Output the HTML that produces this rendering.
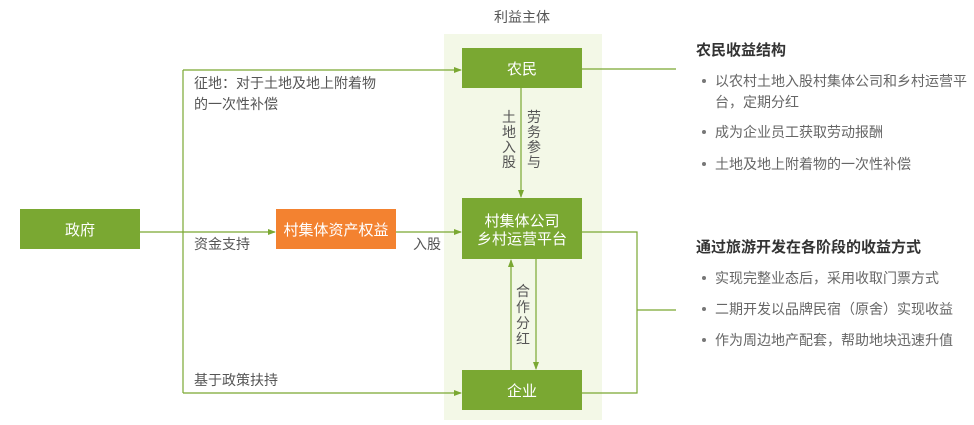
<!DOCTYPE html>
<html><head><meta charset="utf-8"><style>
body{margin:0;background:#fff;}
svg text{font-family:"Liberation Sans","Noto Sans CJK SC",sans-serif;}
</style></head><body>
<svg width="974" height="420" xmlns="http://www.w3.org/2000/svg">
<defs><marker id="a" markerWidth="8" markerHeight="8" refX="7" refY="4" orient="auto" markerUnits="userSpaceOnUse"><path d="M0,1 L8,4 L0,7 Z" fill="#7aa832"/></marker></defs>
<rect x="444" y="34" width="158" height="386" fill="#f3f8e7"/>
<text x="522" y="22" font-size="14" fill="#555" text-anchor="middle">利益主体</text>
<g stroke="#7aa832" stroke-width="1.2" fill="none">
<path d="M183,70 V393"/>
<path d="M183,70 H461" marker-end="url(#a)"/>
<path d="M140,232 H275" marker-end="url(#a)"/>
<path d="M396,232 H461" marker-end="url(#a)"/>
<path d="M183,393 H461" marker-end="url(#a)"/>
<path d="M521,88 V197" marker-end="url(#a)"/>
<path d="M511,370 V260" marker-end="url(#a)"/>
<path d="M536,258 V369" marker-end="url(#a)"/>
<path d="M582,69 H676"/>
<path d="M582,232 H637 V393 H582"/>
<path d="M637,310 H676"/>
</g>
<rect x="20" y="209" width="120" height="40" fill="#7aa832"/>
<text x="80" y="235" font-size="15" fill="#fff" text-anchor="middle">政府</text>
<rect x="276" y="209" width="120" height="40" fill="#f38230"/>
<text x="336" y="235" font-size="15" fill="#fff" text-anchor="middle">村集体资产权益</text>
<rect x="462" y="48" width="120" height="40" fill="#7aa832"/>
<text x="522" y="74" font-size="15" fill="#fff" text-anchor="middle">农民</text>
<rect x="462" y="198" width="120" height="61" fill="#7aa832"/>
<text x="522" y="226" font-size="15" fill="#fff" text-anchor="middle">村集体公司</text>
<text x="522" y="244" font-size="15" fill="#fff" text-anchor="middle">乡村运营平台</text>
<rect x="462" y="370" width="120" height="40" fill="#7aa832"/>
<text x="522" y="396" font-size="15" fill="#fff" text-anchor="middle">企业</text>
<g font-size="14" fill="#555">
<text x="194" y="88">征地：对于土地及地上附着物</text>
<text x="194" y="109">的一次性补偿</text>
<text x="194" y="249">资金支持</text>
<text x="413" y="249">入股</text>
<text x="194" y="385">基于政策扶持</text>
<text x="509" y="122" text-anchor="middle">土</text><text x="509" y="137" text-anchor="middle">地</text><text x="509" y="152" text-anchor="middle">入</text><text x="509" y="167" text-anchor="middle">股</text>
<text x="534" y="122" text-anchor="middle">劳</text><text x="534" y="137" text-anchor="middle">务</text><text x="534" y="152" text-anchor="middle">参</text><text x="534" y="167" text-anchor="middle">与</text>
<text x="523" y="296" text-anchor="middle">合</text><text x="523" y="312" text-anchor="middle">作</text><text x="523" y="328" text-anchor="middle">分</text><text x="523" y="344" text-anchor="middle">红</text>
</g>
<text x="696" y="55" font-size="15" font-weight="bold" fill="#333">农民收益结构</text>
<text x="696" y="252" font-size="15" font-weight="bold" fill="#333">通过旅游开发在各阶段的收益方式</text>
<g fill="#777"><circle cx="704" cy="81" r="2"/><circle cx="704" cy="132" r="2"/><circle cx="704" cy="164" r="2"/><circle cx="704" cy="278" r="2"/><circle cx="704" cy="309" r="2"/><circle cx="704" cy="340" r="2"/></g>
<g font-size="14" fill="#666">
<text x="715" y="86">以农村土地入股村集体公司和乡村运营平</text>
<text x="715" y="107">台，定期分红</text>
<text x="715" y="137">成为企业员工获取劳动报酬</text>
<text x="715" y="169">土地及地上附着物的一次性补偿</text>
<text x="715" y="283">实现完整业态后，采用收取门票方式</text>
<text x="715" y="314">二期开发以品牌民宿（原舍）实现收益</text>
<text x="715" y="345">作为周边地产配套，帮助地块迅速升值</text>
</g>
</svg>
</body></html>
